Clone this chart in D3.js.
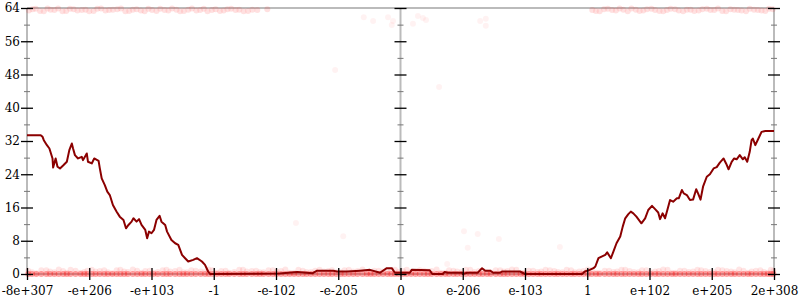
<!DOCTYPE html>
<meta charset="utf-8">
<html>
<head>
  <script src="https://d3js.org/d3.v7.min.js"></script>
  <style>
    body { margin: 0; background: #fff; }
    text { font-family: "DejaVu Serif", serif; }
  </style>
</head>
<body>
<div id="chart"></div>
<script>
  // x is in "tick slots" (0..12), labels below
  var tickLabels = ["-8e+307", "-e+206", "-e+103", "-1", "-e-102", "-e-205", "0",
    "e-206", "e-103", "1", "e+102", "e+205", "2e+308"];
  var tickSlots = [0, 1, 2, 3, 4, 5, 6, 7, 8, 9, 10, 11, 12];
  var yMajor = [0, 8, 16, 24, 32, 40, 48, 56, 64];
  var yMinor = [4, 12, 20, 28, 36, 44, 52, 60];

  // error line
  var lineU = [0.00, 0.22, 0.25, 0.27, 0.32, 0.36, 0.41, 0.42, 0.46, 0.49, 0.53, 0.58, 0.64, 0.68, 0.72, 0.74, 0.77, 0.82, 0.88, 0.90,
    0.96, 0.98, 1.04, 1.08, 1.15, 1.17, 1.20, 1.25, 1.29, 1.33, 1.38, 1.44, 1.49, 1.55, 1.59, 1.63, 1.68, 1.71, 1.76, 1.80,
    1.84, 1.90, 1.93, 1.96, 2.00, 2.04, 2.08, 2.13, 2.16, 2.22, 2.25, 2.32, 2.38, 2.43, 2.49, 2.54, 2.59, 2.67, 2.73, 2.81,
    2.86, 2.91, 2.94, 4.06, 4.34, 4.59, 4.66, 4.92, 4.98, 5.14, 5.35, 5.51, 5.67, 5.78, 5.86, 5.91, 6.00, 6.15, 6.18, 6.47,
    6.51, 6.68, 6.71, 6.76, 6.99, 7.00, 7.07, 7.24, 7.31, 7.36, 7.44, 7.49, 7.60, 7.63, 7.92, 8.00, 8.92, 8.96, 9.04, 9.10,
    9.13, 9.18, 9.23, 9.29, 9.32, 9.38, 9.42, 9.47, 9.53, 9.57, 9.61, 9.66, 9.70, 9.74, 9.79, 9.87, 9.93, 9.98, 10.04, 10.09,
    10.14, 10.17, 10.21, 10.25, 10.29, 10.33, 10.38, 10.44, 10.47, 10.52, 10.55, 10.60, 10.65, 10.70, 10.75, 10.78, 10.82, 10.86, 10.92, 10.97,
    11.03, 11.08, 11.13, 11.19, 11.23, 11.27, 11.32, 11.36, 11.40, 11.45, 11.50, 11.53, 11.57, 11.61, 11.64, 11.66, 11.70, 11.75, 11.80, 11.86, 12.00];
  var lineV = [33.4, 33.4, 33.0, 32.2, 31.0, 30.2, 27.8, 25.6, 27.8, 25.8, 25.4, 26.1, 27.0, 29.8, 31.4, 30.2, 28.6, 27.8, 28.2, 27.4,
    29.0, 27.0, 26.6, 27.8, 27.2, 25.4, 23.0, 21.4, 19.8, 19.0, 16.6, 15.0, 13.8, 13.0, 11.0, 11.8, 12.6, 13.4, 12.6, 13.2,
    11.8, 10.6, 8.6, 10.2, 9.8, 10.6, 13.0, 14.0, 12.6, 11.8, 10.2, 8.2, 7.4, 7.0, 4.6, 3.8, 3.0, 3.4, 3.8, 3.0,
    2.2, 0.6, 0, 0.1, 0.5, 0.2, 0.8, 0.8, 0.6, 0.6, 0.8, 1.0, 0.3, 1.4, 1.4, 0.3, 0.3, 0.3, 1.0, 0.9,
    0, 0, 0.5, 0.3, 0.3, 0, 0.3, 0.3, 1.4, 0.8, 0.8, 0.3, 0.3, 0.6, 0.6, 0, 0, 0.6, 1.0, 1.4,
    1.8, 3.8, 4.2, 4.6, 5.2, 3.8, 5.4, 7.4, 9.0, 11.4, 13.4, 14.4, 15.0, 14.6, 13.8, 12.2, 13.4, 15.4, 16.4, 15.6,
    14.8, 13.2, 14.6, 13.4, 15.6, 17.8, 17.4, 18.2, 18.2, 20.2, 19.4, 19.0, 17.8, 17.9, 20.4, 19.4, 17.9, 21.0, 23.4, 24.0,
    25.4, 25.7, 26.8, 27.8, 26.6, 25.2, 27.0, 27.8, 27.6, 28.6, 27.6, 28.1, 27.0, 29.4, 32.2, 32.6, 31.0, 32.6, 34.2, 34.4, 34.4];

  // faint sample points
  var lowDotsU = [0.02, 0.15, 0.31, 0.44, 0.58, 0.7, 0.86, 0.97, 1.1, 1.24, 1.37, 1.5, 1.62, 1.77, 1.9, 2.03, 2.18, 2.3, 2.45, 2.57,
    2.71, 2.86, 2.98, 3.12, 3.25, 3.41, 3.53, 3.68, 3.8, 3.95, 4.08, 4.22, 4.36, 4.49, 4.63, 4.77, 4.9, 5.04, 5.17, 5.31,
    5.46, 5.58, 5.72, 5.85, 5.97, 6.1, 6.24, 6.38, 6.5, 6.65, 6.78, 6.91, 7.05, 7.19, 7.32, 7.45, 7.6, 7.72, 7.86, 7.99,
    8.13, 8.26, 8.4, 8.53, 8.67, 8.8, 8.94, 9.07, 9.2, 9.35, 9.48, 9.61, 9.75, 9.88, 10.02, 10.15, 10.29, 10.42, 10.56, 10.7,
    10.83, 10.97, 11.1, 11.24, 11.37, 11.51, 11.64, 11.78, 11.9, 11.99];
  var lowDotsV = [0.8, 0.2, 0.9, 0.4, 0.7, 1.0, 0.3, 0.8, 0.6, 0.9, 0.2, 1.0, 0.5, 0.8, 0.7, 0.3, 0.9, 0.6, 1.0, 0.4,
    0.8, 0.5, 0.9, 0.7, 0.3, 1.0, 0.6, 0.8, 0.4, 0.9, 0.7, 0.3, 1.0, 0.5, 0.8, 0.6, 0.9, 0.4, 1.0, 0.7,
    0.3, 0.8, 0.6, 0.9, 0.5, 1.0, 0.4, 0.8, 0.7, 0.3, 0.9, 0.6, 1.0, 0.5, 0.8, 0.4, 0.9, 0.7, 1.0, 0.3,
    0.8, 0.6, 0.9, 0.5, 1.0, 0.4, 0.7, 0.9, 0.3, 0.8, 0.6, 1.0, 0.5, 0.9, 0.4, 0.7, 1.0, 0.3, 0.8, 0.6,
    0.9, 0.5, 1.0, 0.7, 0.4, 0.8, 0.6, 0.9, 0.3, 0.7];
  var lowDots2U = [0.08, 0.23, 0.37, 0.51, 0.64, 0.78, 0.92, 1.04, 1.17, 1.3, 1.44, 1.56, 1.7, 1.84, 1.97, 2.1, 2.24, 2.38, 2.51, 2.64,
    2.79, 2.92, 3.05, 3.19, 3.33, 3.47, 3.61, 3.74, 3.88, 4.01, 4.15, 4.29, 4.43, 4.56, 4.7, 4.84, 4.97, 5.1, 5.24, 5.39,
    5.52, 5.65, 5.79, 5.91, 6.04, 6.17, 6.31, 6.44, 6.58, 6.72, 6.85, 6.98, 7.12, 7.26, 7.39, 7.53, 7.66, 7.79, 7.93, 8.06,
    8.2, 8.33, 8.47, 8.6, 8.74, 8.87, 9.01, 9.14, 9.28, 9.42, 9.55, 9.68, 9.82, 9.95, 10.09, 10.22, 10.36, 10.49, 10.63, 10.77,
    10.9, 11.04, 11.17, 11.31, 11.44, 11.58, 11.71, 11.84, 11.95];
  var lowDots2V = [0.4, 0.9, 0.6, 1.1, 0.3, 0.8, 0.5, 1.0, 0.7, 0.4, 0.9, 0.6, 1.1, 0.3, 0.8, 0.5, 1.0, 0.7, 0.4, 0.9,
    0.6, 1.1, 0.3, 0.8, 0.5, 1.0, 0.7, 0.4, 0.9, 0.6, 1.1, 0.3, 0.8, 0.5, 1.0, 0.7, 0.4, 0.9, 0.6, 1.1,
    0.3, 0.8, 0.5, 1.0, 0.7, 0.4, 0.9, 0.6, 1.1, 0.3, 0.8, 0.5, 1.0, 0.7, 0.4, 0.9, 0.6, 1.1, 0.3, 0.8,
    0.5, 1.0, 0.7, 0.4, 0.9, 0.6, 1.1, 0.3, 0.8, 0.5, 1.0, 0.7, 0.4, 0.9, 0.6, 1.1, 0.3, 0.8, 0.5, 1.0,
    0.7, 0.4, 0.9, 0.6, 1.1, 0.3, 0.8, 0.5, 1.0];
  var topDotsU = [0.03, 0.14, 0.27, 0.38, 0.5, 0.63, 0.75, 0.88, 1.0, 1.13, 1.26, 1.38, 1.51, 1.64, 1.76, 1.89, 2.01, 2.14, 2.27, 2.4,
    2.52, 2.65, 2.78, 2.9, 3.03, 3.16, 3.28, 3.41, 3.55, 3.7, 3.86,
    9.08, 9.2, 9.33, 9.46, 9.58, 9.71, 9.84, 9.96, 10.09, 10.22, 10.34, 10.47, 10.6, 10.72, 10.85, 10.98, 11.1, 11.23, 11.36, 11.48,
    11.61, 11.74, 11.86, 11.98,
    0.09, 0.21, 0.33, 0.44, 0.57, 0.69, 0.81, 0.94, 1.07, 1.19, 1.32, 1.45, 1.58, 1.7, 1.83, 1.95, 2.08, 2.21, 2.33, 2.46,
    2.59, 2.72, 2.84, 2.97, 3.1, 3.22, 3.35, 3.48, 3.62,
    9.14, 9.27, 9.4, 9.52, 9.65, 9.78, 9.9, 10.03, 10.16, 10.28, 10.41, 10.54, 10.66, 10.79, 10.92, 11.04, 11.17, 11.3, 11.42, 11.55,
    11.68, 11.8, 11.92];
  var topDotsV = [63.4, 63.8, 63.2, 63.6, 63.9, 63.3, 63.7, 63.5, 63.2, 63.8, 63.4, 63.6, 63.9, 63.3, 63.7, 63.2, 63.5, 63.8, 63.4, 63.6,
    63.3, 63.9, 63.5, 63.2, 63.7, 63.4, 63.8, 63.6, 63.3, 63.5, 63.7,
    63.5, 63.2, 63.8, 63.4, 63.6, 63.9, 63.3, 63.7, 63.5, 63.2, 63.8, 63.4, 63.6, 63.3, 63.7, 63.5, 63.9, 63.2, 63.6, 63.4,
    63.8, 63.5, 63.3, 63.7,
    63.7, 63.3, 63.9, 63.5, 63.2, 63.8, 63.4, 63.6, 63.3, 63.9, 63.5, 63.7, 63.2, 63.6, 63.4, 63.8, 63.3, 63.5, 63.9, 63.2,
    63.6, 63.4, 63.8, 63.5, 63.3, 63.7, 63.5, 63.2, 63.6,
    63.3, 63.7, 63.5, 63.9, 63.2, 63.6, 63.4, 63.8, 63.3, 63.5, 63.7, 63.2, 63.6, 63.4, 63.8, 63.5, 63.3, 63.7, 63.5, 63.2,
    63.6, 63.4, 63.8];
  var looseDotsU = [5.41, 5.56, 5.80, 5.88, 5.86, 6.20, 6.28, 6.36, 6.41, 7.28, 7.37, 7.37, 6.62, 4.32, 5.08, 7.02, 7.24, 7.08, 7.58, 8.56, 6.75, 4.95];
  var looseDotsV = [61.8, 60.9, 61.8, 60.9, 59.9, 60.2, 62.1, 61.6, 61.1, 60.9, 61.4, 59.7, 45.0, 12.3, 9.1, 10.3, 9.6, 6.3, 8.4, 6.5, 2.4, 49.1];

  var W = 800, H = 300;
  var svg = d3.select("#chart").append("svg")
    .attr("width", W)
    .attr("height", H);

  var defs = svg.append("defs");
  defs.append("filter").attr("id", "soft")
    .append("feGaussianBlur").attr("stdDeviation", 0.7);

  var x = d3.scaleLinear().domain([0, 12]).range([27, 774]);
  var y = d3.scaleLinear().domain([0, 64]).range([274, 8]);

  // grey frame lines
  var frame = svg.append("g").attr("stroke", "#bbb").attr("stroke-width", 2);
  [0, 6, 12].forEach(function (u) {
    frame.append("line").attr("x1", x(u)).attr("x2", x(u)).attr("y1", y(0)).attr("y2", y(64));
  });
  [0, 64].forEach(function (v) {
    frame.append("line").attr("x1", x(0)).attr("x2", x(12)).attr("y1", y(v)).attr("y2", y(v));
  });

  // dots
  function dots(us, vs, op) {
    svg.append("g").attr("filter", "url(#soft)").selectAll("circle")
      .data(us)
      .enter()
      .append("circle")
      .attr("cx", function (d) { return x(d); })
      .attr("cy", function (d, i) { return y(vs[i]); })
      .attr("r", 3)
      .attr("fill", "#ff2020")
      .attr("fill-opacity", op);
  }
  dots(lowDotsU, lowDotsU.map(function () { return 0; }), 0.4);
  dots(lowDots2U, lowDots2U.map(function () { return 0; }), 0.4);
  dots(lowDotsU, lowDotsV, 0.1);
  dots(lowDots2U, lowDots2V, 0.1);
  dots(topDotsU, topDotsV, 0.12);
  dots(looseDotsU, looseDotsV, 0.05);

  // line
  var pts = lineU.map(function (u, i) { return [u, lineV[i]]; });
  svg.append("path")
    .datum(pts)
    .attr("fill", "none")
    .attr("stroke", "#8b0000")
    .attr("stroke-width", 2)
    .attr("stroke-linejoin", "round")
    .attr("d", d3.line().x(function (d) { return x(d[0]); }).y(function (d) { return y(d[1]); }));

  // vertical axes (left has labels)
  function vAxis(xpos, labels) {
    var g = svg.append("g").attr("transform", "translate(" + xpos + ",0)");
    g.call(d3.axisLeft(y).tickValues(yMajor).tickSize(6).tickPadding(1)
      .tickFormat(labels ? d3.format("d") : ""));
    g.select(".domain").remove();
    g.selectAll(".tick line").attr("x1", 6).attr("stroke", "#000").attr("stroke-width", 1.3);
    g.selectAll("text").attr("font-size", 12).attr("font-family", "DejaVu Serif").attr("fill", "#000");
    var m = svg.append("g").attr("transform", "translate(" + xpos + ",0)");
    m.call(d3.axisLeft(y).tickValues(yMinor).tickSize(3).tickFormat(""));
    m.select(".domain").remove();
    m.selectAll(".tick line").attr("x1", 3).attr("stroke", "#777").attr("stroke-width", 1);
  }
  vAxis(x(0), true);
  vAxis(x(6), false);
  vAxis(x(12), false);

  // bottom axis
  var bx = svg.append("g").attr("transform", "translate(0," + y(0) + ")");
  bx.call(d3.axisBottom(x).tickValues(tickSlots).tickSize(6).tickPadding(6)
    .tickFormat(function (d) { return tickLabels[d]; }));
  bx.select(".domain").remove();
  bx.selectAll(".tick line").attr("y1", -6).attr("stroke", "#000").attr("stroke-width", 1.3);
  bx.selectAll("text").attr("font-size", 12).attr("font-family", "DejaVu Serif").attr("fill", "#000");
</script>
</body>
</html>
